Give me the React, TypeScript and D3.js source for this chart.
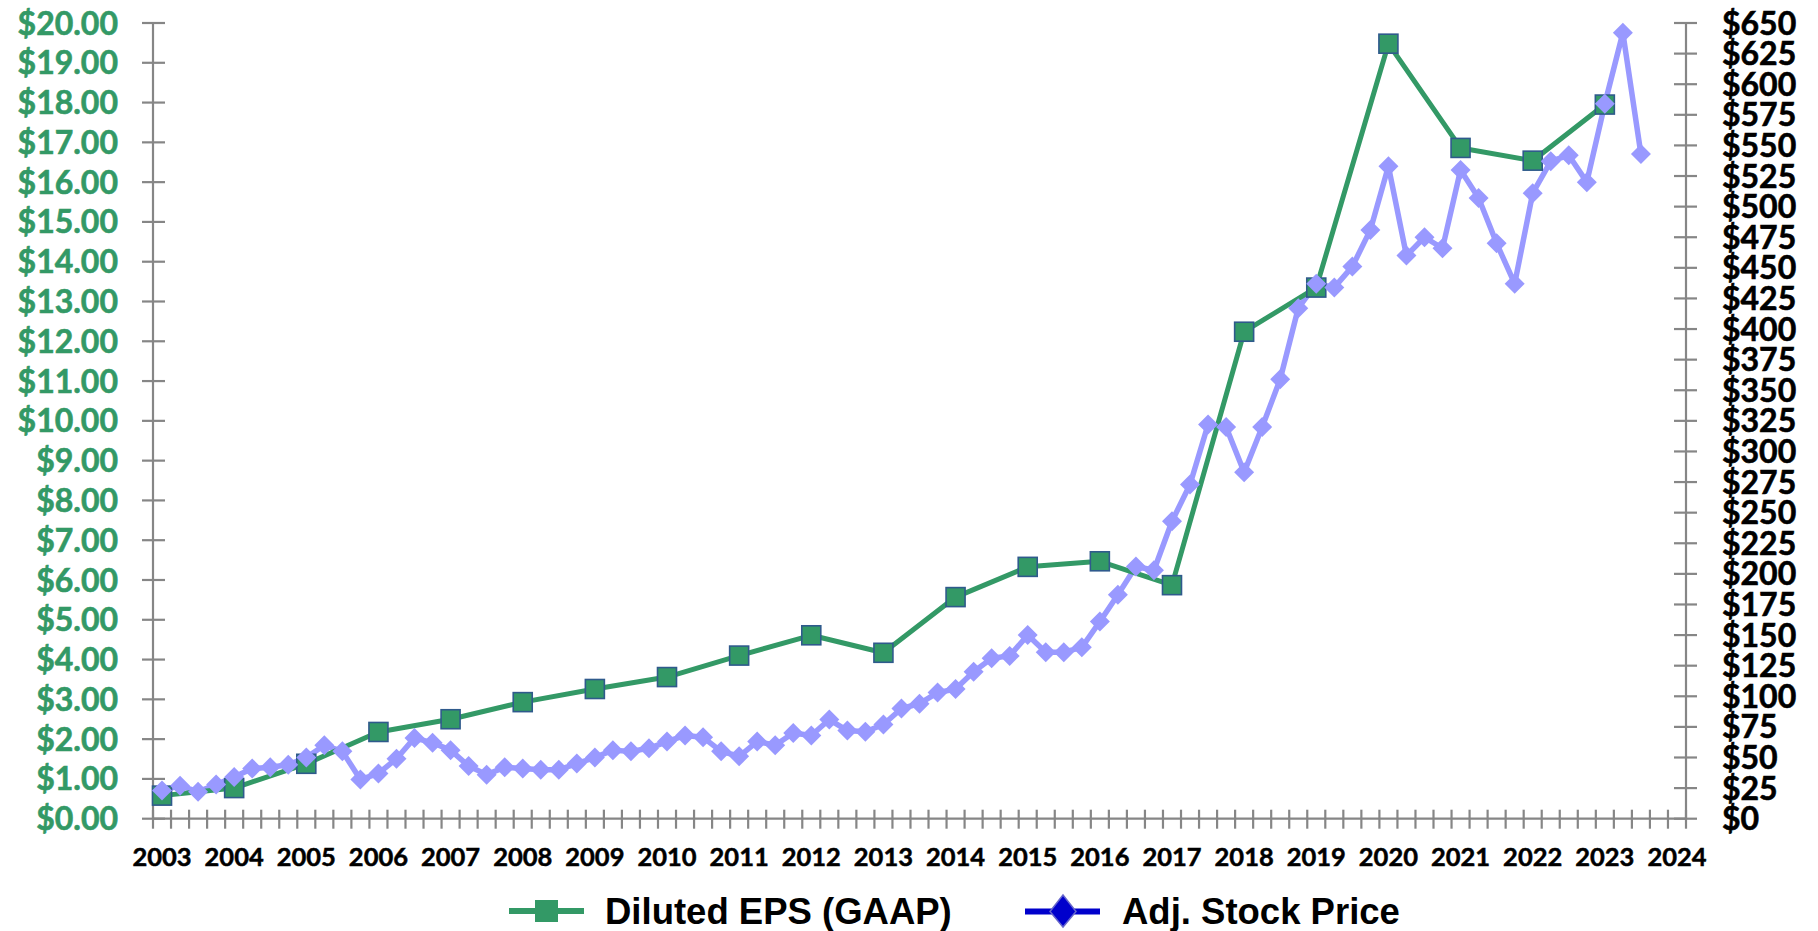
import React from "react";
import * as d3 from "d3";

// years on the category axis (each year has 4 quarterly slots, last slot is 2024 Q1)
const years = d3.range(2003, 2025);
const quarters: string[] = [];
years.forEach((y) => {
  ["Q1", "Q2", "Q3", "Q4"].forEach((q) => {
    if (y < 2024 || q === "Q1") quarters.push(`${y}${q}`);
  });
});

// Diluted EPS (GAAP), annual, plotted at Q1 of each year
const epsYears = d3.range(2003, 2024);
const epsValues = [
  0.58, 0.77, 1.38, 2.18, 2.5, 2.93, 3.26, 3.56, 4.1, 4.61, 4.17, 5.57, 6.33,
  6.47, 5.87, 12.24, 13.35, 19.48, 16.86, 16.54, 17.95,
];

// Adj. stock price, quarterly from 2003 Q1 to 2023 Q3
const stockValues = [
  23, 27, 22, 28, 34, 41, 42, 44, 50, 60, 55, 32, 37, 49, 66, 62, 56, 43, 36,
  42, 41, 40, 40, 45, 50, 56, 55, 57.5, 63, 68, 66.5, 55, 51, 63, 60, 70, 68,
  81, 72, 71, 77, 90, 94, 103, 106, 120, 131, 133, 150, 136, 136, 140, 161,
  183, 206, 203, 243, 273, 322, 320, 283, 320, 359, 417, 437, 434, 451, 481,
  533, 460, 475, 466, 530, 507, 470, 437, 511, 537, 542, 520, 584, 642, 543,
];

const leftTicks = d3.range(0, 21, 1);
const rightTicks = d3.range(0, 651, 25);

const GREEN = "#339966";
const LAVENDER = "#9999FF";
const AXIS = "#868686";
const labelFont = "Lato, 'Open Sans', sans-serif";
const legendFont = "'Liberation Sans', Arial, sans-serif";

export default function App() {
  const width = 1818;
  const height = 931;
  const left = 153;
  const right = 1686;
  const top = 23;
  const bottom = 818.7;

  const x = d3.scaleBand<string>().domain(quarters).range([left, right]).padding(0);
  const cx = (i: number) => (x(quarters[i]) ?? 0) + x.bandwidth() / 2;
  const yL = d3.scaleLinear().domain([0, 20]).range([bottom, top]);
  const yR = d3.scaleLinear().domain([0, 650]).range([bottom, top]);

  const epsPts = epsYears.map((yr, k) => ({
    x: cx(quarters.indexOf(`${yr}Q1`)),
    y: yL(epsValues[k]),
  }));
  const stockPts = stockValues.map((v, i) => ({ x: cx(i), y: yR(v) }));

  const line = d3
    .line<{ x: number; y: number }>()
    .x((d) => d.x)
    .y((d) => d.y);

  const boundaries = d3.range(quarters.length + 1).map((i) =>
    i < quarters.length ? x(quarters[i]) ?? 0 : right
  );

  const diamond = (px: number, py: number, r: number) =>
    `M${px},${py - r}L${px + r},${py}L${px},${py + r}L${px - r},${py}Z`;

  return (
    <svg
      width={width}
      height={height}
      style={{ position: "absolute", left: 0, top: 0, background: "#fff" }}
    >
      {/* axes */}
      <g stroke={AXIS} strokeWidth={2.2}>
        <line x1={left} x2={left} y1={top} y2={bottom} />
        <line x1={right} x2={right} y1={top} y2={bottom} />
        <line x1={left} x2={right} y1={bottom} y2={bottom} />
        {leftTicks.map((t) => (
          <line key={"lt" + t} x1={left - 11} x2={left + 12} y1={yL(t)} y2={yL(t)} />
        ))}
        {rightTicks.map((t) => (
          <line key={"rt" + t} x1={right - 12} x2={right + 11} y1={yR(t)} y2={yR(t)} />
        ))}
        {boundaries.map((bx, i) => (
          <line key={"xt" + i} x1={bx} x2={bx} y1={bottom - 9} y2={bottom + 10} />
        ))}
      </g>

      {/* left axis labels */}
      <g
        fontFamily={labelFont}
        fontWeight={700}
        fontSize={32}
        fill={GREEN}
        stroke={GREEN}
        strokeWidth={0.6}
        textAnchor="end"
      >
        {leftTicks.map((t) => (
          <text key={"ll" + t} x={118} y={yL(t)} dy="0.36em">
            {`$${t.toFixed(2)}`}
          </text>
        ))}
      </g>

      {/* right axis labels */}
      <g
        fontFamily={labelFont}
        fontWeight={700}
        fontSize={32}
        fill="#000"
        stroke="#000"
        strokeWidth={0.6}
        textAnchor="start"
      >
        {rightTicks.map((t) => (
          <text key={"rl" + t} x={1722} y={yR(t)} dy="0.36em">
            {`$${t}`}
          </text>
        ))}
      </g>

      {/* x labels */}
      <g
        fontFamily={labelFont}
        fontWeight={700}
        fontSize={25.5}
        fill="#000"
        stroke="#000"
        strokeWidth={0.5}
        textAnchor="middle"
      >
        {years.map((yr) => (
          <text key={"xl" + yr} x={cx(quarters.indexOf(`${yr}Q1`))} y={866}>
            {yr}
          </text>
        ))}
      </g>

      {/* series */}
      <path d={line(stockPts) ?? ""} fill="none" stroke={LAVENDER} strokeWidth={5.5} strokeLinejoin="round" />
      <path d={line(epsPts) ?? ""} fill="none" stroke={GREEN} strokeWidth={5} strokeLinejoin="round" />
      {epsPts.map((p, k) => (
        <rect
          key={"sq" + k}
          x={p.x - 9.5}
          y={p.y - 9.5}
          width={19}
          height={19}
          fill={GREEN}
          stroke="#2F5A8C"
          strokeWidth={1.6}
        />
      ))}
      {stockPts.map((p, i) => (
        <path key={"dm" + i} d={diamond(p.x, p.y, 10)} fill={LAVENDER} />
      ))}

      {/* legend */}
      <g>
        <line x1={509} x2={584} y1={911} y2={911} stroke={GREEN} strokeWidth={6} />
        <rect x={535} y={900} width={23} height={22} fill={GREEN} />
        <text x={605} y={924} fontFamily={legendFont} fontWeight={700} fontSize={36.5} fill="#000">
          Diluted EPS (GAAP)
        </text>
        <line x1={1025} x2={1100} y1={911.5} y2={911.5} stroke="#0000CC" strokeWidth={6} />
        <path
          d="M1063,895L1076,911.5L1063,927L1050,911.5Z"
          fill="#0000CC"
          stroke="#6666CC"
          strokeWidth={1.5}
        />
        <text x={1122} y={924} fontFamily={legendFont} fontWeight={700} fontSize={36.5} fill="#000">
          Adj. Stock Price
        </text>
      </g>
    </svg>
  );
}
